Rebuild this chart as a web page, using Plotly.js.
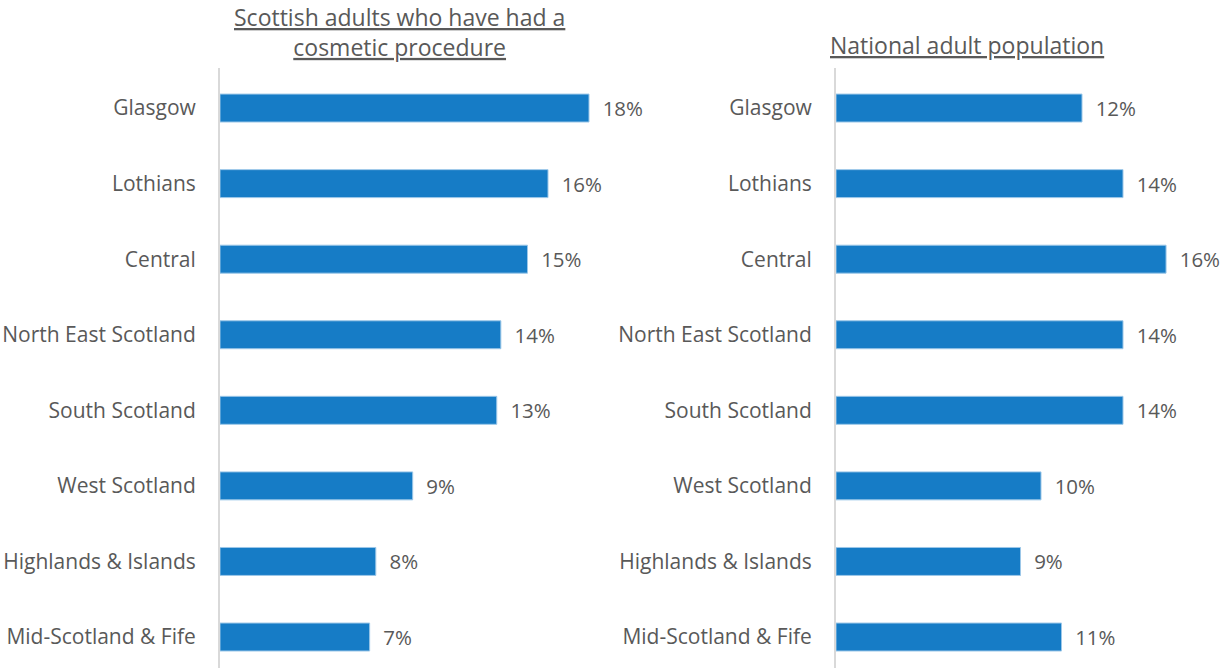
<!DOCTYPE html>
<html>
<head>
<meta charset="utf-8">
<script src="https://cdn.plot.ly/plotly-3.0.1.min.js"></script>
<style>html,body{margin:0;padding:0;background:#fff;}#chart{width:1220px;height:668px;}</style>
</head>
<body>
<div id="chart"></div>
<script>
const regions = ["Glasgow", "Lothians", "Central", "North East Scotland", "South Scotland", "West Scotland", "Highlands & Islands", "Mid-Scotland & Fife"];
const scottishCosmetic = [18.0, 16.0, 15.0, 13.7, 13.5, 9.4, 7.6, 7.3];
const scottishLabels = ["18%", "16%", "15%", "14%", "13%", "9%", "8%", "7%"];
const nationalPop = [12.0, 14.0, 16.1, 14.0, 14.0, 10.0, 9.0, 11.0];
const nationalLabels = ["12%", "14%", "16%", "14%", "14%", "10%", "9%", "11%"];
const titleLeft = "Scottish adults who have had a<br>cosmetic procedure";
const titleRight = "National adult population";

const W = 1220;
const FONT = "Open Sans, sans-serif";
const GREY = "#595959";
const BLUE = "#167CC6";
const pad = s => "\u00a0\u00a0" + s;

const traces = [
  {type: "bar", orientation: "h", y: regions, x: scottishCosmetic, text: scottishLabels.map(pad),
   textposition: "outside", cliponaxis: false, width: 0.37,
   marker: {color: BLUE, line: {color: "#9cc7e8", width: 1}},
   textfont: {family: FONT, size: 20.5, color: GREY}, xaxis: "x", yaxis: "y", hoverinfo: "none"},
  {type: "bar", orientation: "h", y: regions, x: nationalPop, text: nationalLabels.map(pad),
   textposition: "outside", cliponaxis: false, width: 0.37,
   marker: {color: BLUE, line: {color: "#9cc7e8", width: 1}},
   textfont: {family: FONT, size: 20.5, color: GREY}, xaxis: "x2", yaxis: "y2", hoverinfo: "none"}
];

const yax = (anchor) => ({
  anchor: anchor, type: "category", autorange: false, range: [7.41, -0.53],
  showline: true, linecolor: "#d9d9d9", linewidth: 2, showgrid: false, zeroline: false,
  ticks: "", ticklabelstandoff: 18, tickfont: {family: FONT, size: 21, color: GREY}
});
const xax = (domain, maxv, anchor) => ({
  domain: domain, range: [0, maxv], anchor: anchor, visible: false, fixedrange: true
});

const layout = {
  width: 1220, height: 668,
  margin: {l: 0, r: 0, t: 68, b: 0},
  paper_bgcolor: "#fff", plot_bgcolor: "#fff",
  showlegend: false,
  xaxis: xax([220 / W, 620 / W], 400 / 20.5, "y"),
  xaxis2: xax([836 / W, 1210 / W], 374 / 20.5, "y2"),
  yaxis: yax("x"),
  yaxis2: yax("x2"),
  annotations: [
    {text: "<u>" + titleLeft.replace("<br>", "</u><br><u>") + "</u>", xref: "paper", yref: "paper",
     x: 400 / W, y: 1, yshift: 3, xanchor: "center", yanchor: "bottom",
     showarrow: false, align: "center", font: {family: FONT, size: 23, color: GREY}},
    {text: "<u>" + titleRight + "</u>", xref: "paper", yref: "paper",
     x: 967 / W, y: 1, yshift: 5, xanchor: "center", yanchor: "bottom",
     showarrow: false, align: "center", font: {family: FONT, size: 23, color: GREY}}
  ]
};

Plotly.newPlot("chart", traces, layout, {displayModeBar: false, staticPlot: true});
</script>
</body>
</html>
